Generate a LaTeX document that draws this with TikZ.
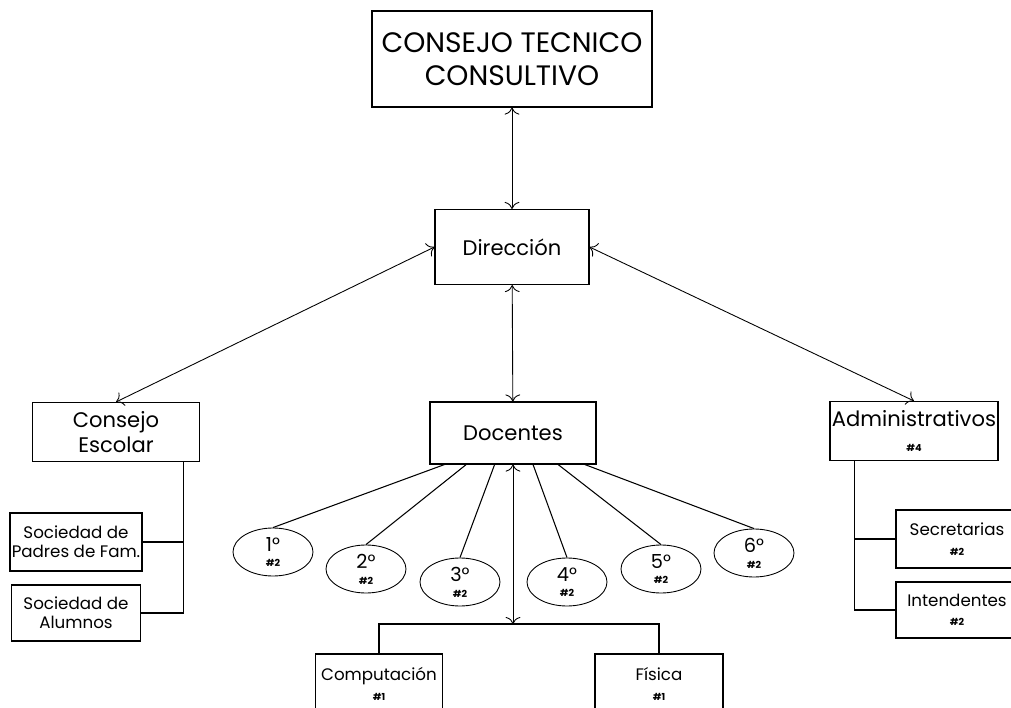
\documentclass[tikz,border=0pt]{standalone}
\usepackage{fontspec}
\setmainfont{Poppins}
\usetikzlibrary{shapes.geometric, arrows.meta, calc}

\begin{document}
\begin{tikzpicture}[x=0.2mm, y=-0.2mm,
    caja/.style 2 args={rectangle, draw=black, line width=0.6pt,
        minimum width={#1*0.2mm}, minimum height={#2*0.2mm},
        align=center, inner sep=1pt},
    grande/.style={font=\fontsize{16}{19}\selectfont},
    media/.style={font=\fontsize{12}{14.5}\selectfont},
    chica/.style={font=\fontsize{9.5}{11}\selectfont},
    curso/.style={ellipse, draw=black, line width=0.5pt, minimum width=16mm,
        minimum height=9.6mm, inner sep=0pt, align=center,
        font=\fontsize{11}{9}\selectfont},
    flecha/.style={{To[length=4pt]}-{To[length=4pt]}, line width=0.5pt},
    linea/.style={line width=0.6pt}
]
\newcommand{\cant}[1]{{\fontsize{5.5}{6}\selectfont\bfseries\##1}}

\clip (0,0) rectangle (1011,708);

% Top of the chart
\node[caja={280}{96}, grande] (ctc) at (512,59) {CONSEJO TECNICO\\CONSULTIVO};
\node[caja={154}{75}, media] (dir) at (512,247) {Dirección};

% Second level
\node[caja={167}{59}, media] (ce) at (116,432) {Consejo\\Escolar};
\node[caja={166}{62}, media] (doc) at (513,433) {Docentes};
\node[caja={168}{59}, media] (adm) at (914,431) {Administrativos\\\cant{4}};

% Under Consejo Escolar
\node[caja={129}{58}, chica] (spf) at (76,542) {Sociedad de\\Padres de Fam.};
\node[caja={129}{56}, chica] (sal) at (76,613) {Sociedad de\\Alumnos};

% Under Administrativos
\node[caja={122}{58}, chica] (sec) at (957,539) {Secretarias\\\cant{2}};
\node[caja={122}{56}, chica] (int) at (957,610) {Intendentes\\\cant{2}};

% Grades
\node[curso] (g1) at (273,552) {1°\\\cant{2}};
\node[curso] (g2) at (366,569) {2°\\\cant{2}};
\node[curso] (g3) at (460,582) {3°\\\cant{2}};
\node[curso] (g4) at (567,582) {4°\\\cant{2}};
\node[curso] (g5) at (661,569) {5°\\\cant{2}};
\node[curso] (g6) at (754,553) {6°\\\cant{2}};

% Special subjects
\node[caja={127}{60}, chica] (comp) at (379,684) {Computación\\\cant{1}};
\node[caja={128}{60}, chica] (fis) at (659,684) {Física\\\cant{1}};

% Arrows
\draw[flecha] (ctc) -- (dir);
\draw[flecha] (dir.west) -- (ce.north);
\draw[flecha] (dir.east) -- (adm.north);
\draw[flecha] (dir) -- (doc);

\coordinate (jun) at (513,624);
\draw[flecha] (doc.south) -- (jun);
\draw[linea] (jun) -| (comp.north);
\draw[linea] (jun) -| (fis.north);

% Docentes to grades
\foreach \f/\g in {0.09/g1, 0.22/g2, 0.39/g3, 0.62/g4, 0.77/g5, 0.93/g6}
    \draw[linea] ($(doc.south west)!\f!(doc.south east)$) -- (\g.north);

% Side branches
\coordinate (ceb) at ($(ce.south east)+(-17,0)$);
\draw[linea] (ceb) |- (sal.east);
\draw[linea] (ceb |- spf.east) -- (spf.east);

\coordinate (admb) at ($(adm.south west)+(25,0)$);
\draw[linea] (admb) |- (int.west);
\draw[linea] (admb |- sec.west) -- (sec.west);

\end{tikzpicture}
\end{document}
